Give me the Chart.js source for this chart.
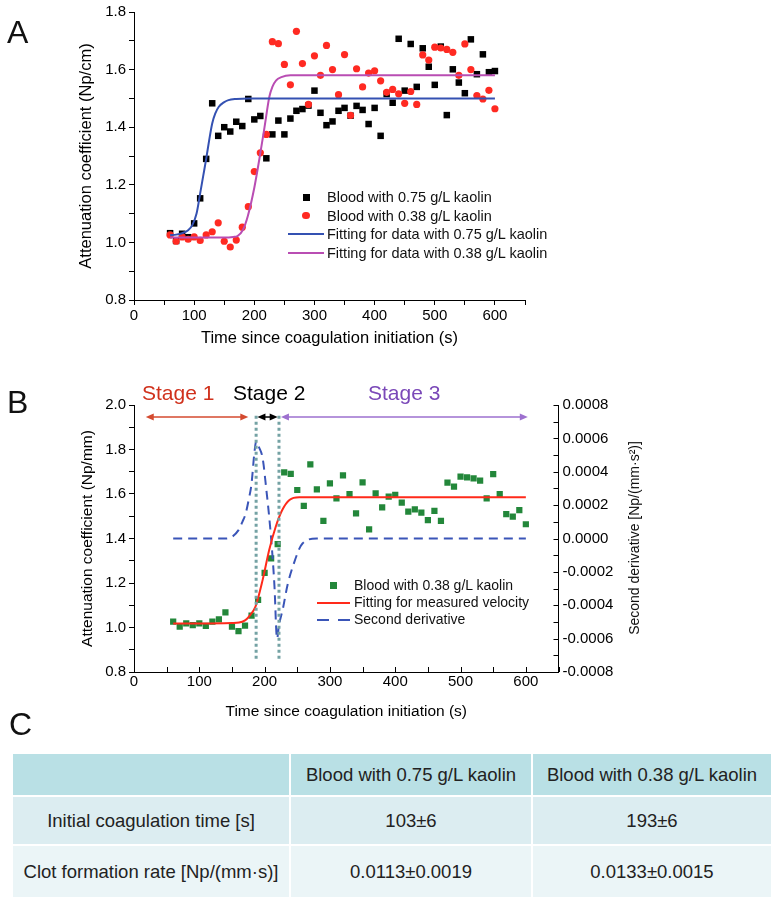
<!DOCTYPE html>
<html>
<head>
<meta charset="utf-8">
<title>Coagulation attenuation</title>
<script src="https://cdn.jsdelivr.net/npm/chart.js@4.4.0/dist/chart.umd.min.js"></script>
<style>
  body { margin: 0; background: #fff; font-family: "Liberation Sans", Arial, sans-serif; color: #111; }
  #page { position: relative; width: 773px; height: 900px; overflow: hidden; }
  canvas { position: absolute; left: 0; }
  .letter { position: absolute; font-size: 32px; line-height: 32px; }
  .stage { position: absolute; font-size: 21px; line-height: 24px; white-space: nowrap; }
  .legend { position: absolute; white-space: nowrap; }
  .legend .row { position: relative; }
  .legend .mk { position: absolute; top: 50%; }
  .ytitle2 { position: absolute; width: 300px; text-align: center; font-size: 14px; line-height: 18px; transform: rotate(-90deg); }
  table { position: absolute; left: 11px; top: 752px; width: 760px; border-collapse: collapse; table-layout: fixed;
          font-size: 18.5px; color: #222; }
  td { text-align: center; border: 2px solid #fff; padding: 0; }
  tr.h td { background: #b9e0e5; height: 41px; }
  tr.r1 td { background: #dcedf1; height: 47px; }
  tr.r2 td { background: #ebf5f7; height: 51px; }
</style>
</head>
<body>
<div id="page">
  <canvas id="chartA" width="773" height="360" style="top:0"></canvas>
  <canvas id="chartB" width="773" height="355" style="top:370px"></canvas>

  <div class="letter" style="left:7px; top:16px">A</div>
  <div class="letter" style="left:7px; top:386px">B</div>
  <div class="letter" style="left:9px; top:708px">C</div>

  <div class="stage" style="left:142px; top:381px; color:#d0311c">Stage 1</div>
  <div class="stage" style="left:233px; top:381px; color:#000">Stage 2</div>
  <div class="stage" style="left:368px; top:381px; color:#7a48b8">Stage 3</div>

  <div class="legend" id="legA" style="left:288px; top:188px; font-size:14.5px"></div>
  <div class="legend" id="legB" style="left:317px; top:577px; font-size:14px"></div>

  <div class="ytitle2" style="left:484px; top:529px">Second derivative [Np/(mm·s²)]</div>

  <table>
    <colgroup><col style="width:278px"><col style="width:242px"><col style="width:240px"></colgroup>
    <tr class="h"><td></td><td>Blood with 0.75 g/L kaolin</td><td>Blood with 0.38 g/L kaolin</td></tr>
    <tr class="r1"><td>Initial coagulation time [s]</td><td>103±6</td><td>193±6</td></tr>
    <tr class="r2"><td>Clot formation rate [Np/(mm·s)]</td><td>0.0113±0.0019</td><td>0.0133±0.0015</td></tr>
  </table>
</div>

<script>
// ---------- dados ----------
const times = [60, 70, 80, 90, 100, 110, 120, 130, 140, 150, 160, 170, 180, 190, 200, 210, 220, 230, 240, 250,
  260, 270, 280, 290, 300, 310, 320, 330, 340, 350, 360, 370, 380, 390, 400, 410, 420, 430, 440, 450,
  460, 470, 480, 490, 500, 510, 520, 530, 540, 550, 560, 570, 580, 590, 600];

// blood with 0.75 g/L kaolin (panel A, squares)
const kaolin075 = [1.032, 1.005, 1.03, 1.018, 1.066, 1.153, 1.29, 1.483, 1.37, 1.40, 1.385, 1.419, 1.404, 1.498, 1.427, 1.439, 1.292, 1.375, 1.423, 1.375,
  1.43, 1.457, 1.463, 1.475, 1.527, 1.45, 1.407, 1.42, 1.457, 1.467, 1.44, 1.474, 1.46, 1.411, 1.467, 1.37, 1.515, 1.485, 1.707, 1.527,
  1.689, 1.54, 1.674, 1.61, 1.547, 1.68, 1.442, 1.601, 1.555, 1.518, 1.705, 1.584, 1.653, 1.591, 1.595];

// blood with 0.38 g/L kaolin (panel A circles, panel B squares)
const kaolin038 = [1.026, 1.004, 1.019, 1.011, 1.019, 1.007, 1.026, 1.037, 1.068, 1.004, 0.984, 1.008, 1.053, 1.124, 1.246, 1.311, 1.375, 1.697, 1.69, 1.618,
  1.547, 1.733, 1.621, 1.479, 1.648, 1.58, 1.684, 1.6, 1.513, 1.652, 1.441, 1.603, 1.54, 1.588, 1.596, 1.561, 1.521, 1.531, 1.516, 1.483,
  1.524, 1.479, 1.651, 1.633, 1.678, 1.675, 1.67, 1.66, 1.58, 1.689, 1.6, 1.51, 1.498, 1.528, 1.464];

// curvas ajustadas
const fit075X = [60, 70, 80, 90, 97, 104, 110, 115, 120, 125, 130, 135, 141, 150, 157, 170, 190, 600];
const fit075Y = [1.025, 1.027, 1.032, 1.042, 1.06, 1.1, 1.17, 1.23, 1.29, 1.355, 1.413, 1.447, 1.471, 1.487, 1.494, 1.498, 1.5, 1.5];
const fit038X = [60, 100, 150, 165, 172, 181, 189, 200, 209, 217, 225, 230, 236, 245, 260, 600];
const fit038Y = [1.017, 1.017, 1.017, 1.019, 1.022, 1.043, 1.09, 1.19, 1.297, 1.40, 1.506, 1.54, 1.562, 1.574, 1.58, 1.58];

const fitBX = [60, 100, 150, 161, 170, 176, 186, 197, 207, 217, 227, 238, 253, 280, 600];
const fitBY = [1.018, 1.018, 1.02, 1.022, 1.032, 1.049, 1.094, 1.214, 1.348, 1.453, 1.528, 1.573, 1.585, 1.585, 1.585];

const derivX = [60, 140, 150, 160, 166, 171, 176, 180, 184, 187, 191, 197, 203, 207, 211, 215, 219, 222, 228, 235, 243, 258, 280, 600];
const derivY = [0, 0, 0.00001, 0.00005, 0.0001, 0.00015, 0.00024, 0.00033, 0.0005, 0.00058, 0.00055, 0.00048, 0.00028, 0.00013,
  -0.00005, -0.00028, -0.0006, -0.00052, -0.00042, -0.00028, -0.00017, -0.00003, 0, 0];

// estágios (painel B)
const stageEdges = [187, 222];
const edgeSpan = [0.86, 1.955];
const stageStart = [18, 189, 225];
const stageEnd = [175, 220, 603];
const arrowLevel = 1.946;
const arrowColors = ["#d44a2f", "#000000", "#9d70cf"];

// ---------- helpers ----------
const pts = (xs, ys) => xs.map((x, i) => ({ x, y: ys[i] }));

Chart.defaults.font.family = '"Liberation Sans", Arial, sans-serif';
Chart.defaults.color = "#000";

function axis(opts) {
  const o = {
    type: "linear",
    position: opts.position,
    min: opts.min,
    max: opts.max,
    border: { display: true, color: "#000", width: 1 },
    grid: { drawOnChartArea: false, drawTicks: opts.drawTicks !== false, tickLength: 5, color: "#000" },
    ticks: {
      stepSize: opts.step,
      autoSkip: false,
      maxRotation: 0,
      padding: opts.pad,
      color: "#000",
      font: { size: opts.tickSize || 15 },
      callback: opts.label,
    },
    title: opts.title
      ? { display: true, text: opts.title, color: "#000", font: { size: opts.titleSize || 16 }, padding: opts.titlePad }
      : { display: false },
    afterFit: opts.fit,
  };
  return o;
}

const labelX = (v) => (Math.round(v) % 100 === 0 ? String(Math.round(v)) : "");
const labelY = (v) => (Math.round(v * 10) % 2 === 0 ? v.toFixed(1) : "");
const labelY2 = (v) => {
  const k = Math.round(v * 10000);
  if (k % 2 !== 0) return "";
  return k === 0 ? "0.0000" : (k / 10000).toFixed(4);
};

// ---------- painel A ----------
new Chart(document.getElementById("chartA"), {
  type: "scatter",
  data: {
    datasets: [
      { data: pts(fit075X, fit075Y), showLine: true, borderColor: "#3451b2", borderWidth: 2, pointRadius: 0, cubicInterpolationMode: "monotone" },
      { data: pts(fit038X, fit038Y), showLine: true, borderColor: "#b94db3", borderWidth: 2, pointRadius: 0, cubicInterpolationMode: "monotone" },
      { data: pts(times, kaolin038), pointStyle: "circle", pointRadius: 3.6, backgroundColor: "#ff2a22", borderWidth: 0 },
      { data: pts(times, kaolin075), pointStyle: "rect", pointRadius: 4.6, backgroundColor: "#000", borderWidth: 0 },
    ],
  },
  options: {
    responsive: false,
    animation: false,
    layout: { autoPadding: false, padding: { left: 0, top: 12, right: 248, bottom: 0 } },
    plugins: { legend: { display: false }, tooltip: { enabled: false } },
    scales: {
      x: axis({ position: "bottom", min: 0, max: 650, step: 50, pad: 2, label: labelX, tickSize: 15,
        title: "Time since coagulation initiation (s)", titleSize: 16.5, titlePad: { top: 0, bottom: 12 },
        fit: (s) => { s.height = 60; } }),
      y: axis({ position: "left", min: 0.8, max: 1.8, step: 0.1, pad: 3, label: labelY, tickSize: 15,
        title: "Attenuation coefficient (Np/cm)", titleSize: 16.5, titlePad: { top: 77, bottom: 0 },
        fit: (s) => { s.width = 134; } }),
    },
  },
});

// ---------- painel B ----------
const stagePlugin = {
  id: "stages",
  afterDatasetsDraw(chart) {
    const { ctx, scales } = chart;
    const yPx = scales.y.getPixelForValue(arrowLevel);
    ctx.save();
    stageStart.forEach((s, i) => {
      const x1 = scales.x.getPixelForValue(s);
      const x2 = scales.x.getPixelForValue(stageEnd[i]);
      ctx.strokeStyle = arrowColors[i];
      ctx.fillStyle = arrowColors[i];
      ctx.lineWidth = 1.5;
      ctx.beginPath();
      ctx.moveTo(x1 + 4, yPx);
      ctx.lineTo(x2 - 4, yPx);
      ctx.stroke();
      [[x1, 1], [x2, -1]].forEach(([x, d]) => {
        ctx.beginPath();
        ctx.moveTo(x, yPx);
        ctx.lineTo(x + d * 8, yPx - 3.5);
        ctx.lineTo(x + d * 8, yPx + 3.5);
        ctx.closePath();
        ctx.fill();
      });
    });
    // ticks para dentro (eixo x e eixo direito)
    ctx.strokeStyle = "#000";
    ctx.lineWidth = 1;
    scales.x.ticks.forEach((t) => {
      const x = Math.round(scales.x.getPixelForValue(t.value)) + 0.5;
      ctx.beginPath();
      ctx.moveTo(x, scales.x.top);
      ctx.lineTo(x, scales.x.top - 5);
      ctx.stroke();
    });
    scales.y2.ticks.forEach((t) => {
      const y = Math.round(scales.y2.getPixelForValue(t.value)) + 0.5;
      ctx.beginPath();
      ctx.moveTo(scales.y2.left, y);
      ctx.lineTo(scales.y2.left - 5, y);
      ctx.stroke();
    });
    ctx.restore();
  },
};

const edgeSets = stageEdges.map((e) => ({
  data: [{ x: e, y: edgeSpan[0] }, { x: e, y: edgeSpan[1] }],
  showLine: true, borderColor: "#74a2a4", borderWidth: 3, borderDash: [3, 3], pointRadius: 0, yAxisID: "y",
}));

new Chart(document.getElementById("chartB"), {
  type: "scatter",
  data: {
    datasets: [
      ...edgeSets,
      { data: pts(fitBX, fitBY), showLine: true, borderColor: "#ff2a1a", borderWidth: 2, pointRadius: 0, cubicInterpolationMode: "monotone", yAxisID: "y" },
      { data: pts(derivX, derivY), showLine: true, borderColor: "#3a55b8", borderWidth: 2, borderDash: [9, 6], pointRadius: 0, cubicInterpolationMode: "monotone", yAxisID: "y2" },
      { data: pts(times, kaolin038), pointStyle: "rect", pointRadius: 4.4, backgroundColor: "#23873a", borderWidth: 0, yAxisID: "y" },
    ],
  },
  options: {
    responsive: false,
    animation: false,
    layout: { autoPadding: false, padding: { left: 0, top: 35, right: 0, bottom: 0 } },
    plugins: { legend: { display: false }, tooltip: { enabled: false } },
    scales: {
      x: axis({ position: "bottom", min: 0, max: 650, step: 50, pad: 1, label: labelX, drawTicks: false, tickSize: 15,
        title: "Time since coagulation initiation (s)", titleSize: 15.5, titlePad: { top: 0, bottom: 4 },
        fit: (s) => { s.height = 53; } }),
      y: axis({ position: "left", min: 0.8, max: 2.0, step: 0.1, pad: 3, label: labelY, tickSize: 15,
        title: "Attenuation coefficient (Np/mm)", titleSize: 15.5, titlePad: { top: 78, bottom: 0 },
        fit: (s) => { s.width = 134; } }),
      y2: axis({ position: "right", min: -0.0008, max: 0.0008, step: 0.0001, pad: 4, label: labelY2, drawTicks: false, tickSize: 15,
        fit: (s) => { s.width = 214.5; } }),
    },
  },
  plugins: [stagePlugin],
});

// ---------- legendas ----------
function legenda(el, items, rowH) {
  items.forEach((it) => {
    const row = document.createElement("div");
    row.className = "row";
    row.style.height = rowH + "px";
    row.style.lineHeight = rowH + "px";
    row.style.paddingLeft = it.textLeft + "px";
    const mk = document.createElement("span");
    mk.className = "mk";
    if (it.kind === "square") {
      mk.style.cssText = `left:${it.mkW / 2 - 3.5}px;width:7px;height:7px;margin-top:-3.5px;background:${it.color}`;
    } else if (it.kind === "circle") {
      mk.style.cssText = `left:${it.mkW / 2 - 3.6}px;width:7.2px;height:7.2px;margin-top:-3.6px;border-radius:50%;background:${it.color}`;
    } else if (it.kind === "dash") {
      mk.style.cssText = `left:0;width:${it.mkW}px;height:2px;margin-top:-1px;background:repeating-linear-gradient(to right, ${it.color} 0 12px, transparent 12px 21px)`;
    } else {
      mk.style.cssText = `left:0;width:${it.mkW}px;height:2px;margin-top:-1px;background:${it.color}`;
    }
    row.appendChild(mk);
    row.appendChild(document.createTextNode(it.text));
    el.appendChild(row);
  });
}

legenda(document.getElementById("legA"), [
  { kind: "square", color: "#000", text: "Blood with 0.75 g/L kaolin", mkW: 36, textLeft: 39 },
  { kind: "circle", color: "#ff2a22", text: "Blood with 0.38 g/L kaolin", mkW: 36, textLeft: 39 },
  { kind: "line", color: "#3451b2", text: "Fitting for data with 0.75 g/L kaolin", mkW: 36, textLeft: 39 },
  { kind: "line", color: "#b94db3", text: "Fitting for data with 0.38 g/L kaolin", mkW: 36, textLeft: 39 },
], 18.5);

legenda(document.getElementById("legB"), [
  { kind: "square", color: "#23873a", text: "Blood with 0.38 g/L kaolin", mkW: 33, textLeft: 37 },
  { kind: "line", color: "#ff2a1a", text: "Fitting for measured velocity", mkW: 33, textLeft: 37 },
  { kind: "dash", color: "#3a55b8", text: "Second derivative", mkW: 33, textLeft: 37 },
], 17);
</script>
</body>
</html>
